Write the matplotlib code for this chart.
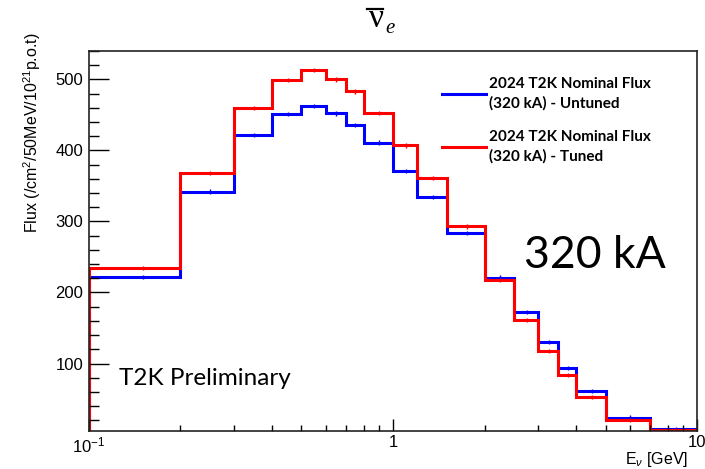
import numpy as np
import matplotlib
matplotlib.use("Agg")
import matplotlib.pyplot as plt
from matplotlib.lines import Line2D
from matplotlib.ticker import MultipleLocator, FixedLocator, FixedFormatter, LogLocator, NullFormatter

plt.rcParams['font.family'] = ['Liberation Sans', 'DejaVu Sans']
plt.rcParams['mathtext.fontset'] = 'custom'
plt.rcParams['mathtext.rm'] = 'Liberation Sans'
plt.rcParams['mathtext.it'] = 'Liberation Sans:italic'

# bin edges in GeV
edges = [0.1, 0.2, 0.3, 0.4, 0.5, 0.6, 0.7, 0.8, 1.0, 1.2, 1.5, 2.0, 2.5, 3.0, 3.5, 4.0, 5.0, 7.0, 10.0]
# anti-nu_e flux, 320 kA
untuned = [222, 342, 422, 451, 463, 452, 436, 411, 371, 334, 284, 221, 173, 130, 94, 61, 24, 8]
tuned = [235, 368, 460, 499, 513, 500, 483, 453, 407, 361, 293, 218, 161, 118, 84, 53, 21, 6.5]
err = 3

centers = [(a + b) / 2 for a, b in zip(edges[:-1], edges[1:])]

W, H = 705, 469
fig = plt.figure(figsize=(W / 100, H / 100), dpi=100)
ax = fig.add_axes([0.1262, 0.081, 0.9887 - 0.1262, 0.8913 - 0.081])

ax.stairs(untuned, edges, baseline=0, color='#0000ff', linewidth=2.2,
          label='2024 T2K Nominal Flux\n(320 kA) - Untuned')
ax.errorbar(centers, untuned, yerr=err, fmt='none', ecolor='#0000ff', elinewidth=1)
ax.stairs(tuned, edges, baseline=0, color='#ff0000', linewidth=2.2,
          label='2024 T2K Nominal Flux\n(320 kA) - Tuned')
ax.errorbar(centers, tuned, yerr=err, fmt='none', ecolor='#ff0000', elinewidth=1)

ax.set_xscale('log')
ax.set_xlim(0.1, 10)
ax.set_ylim(5, 540)

ax.xaxis.set_major_locator(FixedLocator([0.1, 1, 10]))
ax.xaxis.set_major_formatter(FixedFormatter(['$10^{-1}$', '1', '10']))
ax.xaxis.set_minor_locator(LogLocator(base=10, subs=np.arange(2, 10)))
ax.xaxis.set_minor_formatter(NullFormatter())
ax.yaxis.set_major_locator(MultipleLocator(100))
ax.yaxis.set_minor_locator(MultipleLocator(20))

ax.tick_params(which='both', direction='in', top=False, right=False, labelsize=12, width=1)
ax.tick_params(axis='y', which='major', length=14.4, pad=4)
ax.tick_params(axis='y', which='minor', length=7.2)
ax.tick_params(axis='x', which='major', length=8.6, pad=3)
ax.tick_params(axis='x', which='minor', length=4.3)
for s in ax.spines.values():
    s.set_linewidth(1.2)
    s.set_color('#222222')

ax.set_xlabel(r'E$_{\nu}$ [GeV]', fontsize=11.5, loc='right')
ax.xaxis.set_label_coords(0.985, -0.05)
fig.text(0.046, 1 - 233 / H, r'Flux (/cm$^{2}$/50MeV/10$^{21}$p.o.t)', rotation=90,
         ha='center', va='bottom', fontsize=11.5)

# title: anti electron neutrino
fig.text(376 / W, 1 - 27 / H, 'ν', ha='center', va='baseline', fontsize=24,
         family='Liberation Serif')
fig.text(385 / W, 1 - 33 / H, 'e', ha='left', va='baseline', fontsize=15,
         family='Liberation Serif', style='italic')
fig.add_artist(Line2D([367 / W, 383 / W], [1 - 9 / H, 1 - 9 / H], color='black',
                      linewidth=1.6, transform=fig.transFigure))

leg = ax.legend(loc='upper left', bbox_to_anchor=(0.58, 0.932), frameon=False,
                prop={'family': 'Lato', 'weight': 'bold', 'size': 11},
                handlelength=2.9, handletextpad=0.2, labelspacing=1.25, borderpad=0,
                borderaxespad=0)
for t in leg.get_texts():
    t.set_linespacing(1.45)

ax.text(595 / W, 1 - 256 / H, '320 kA', transform=fig.transFigure, ha='center', va='center',
        fontsize=32, family='Lato')
ax.text(119 / W, 1 - 378 / H, 'T2K Preliminary', transform=fig.transFigure, ha='left',
        va='center', fontsize=17.5, family='Lato')

fig.savefig('out.png', dpi=100)
